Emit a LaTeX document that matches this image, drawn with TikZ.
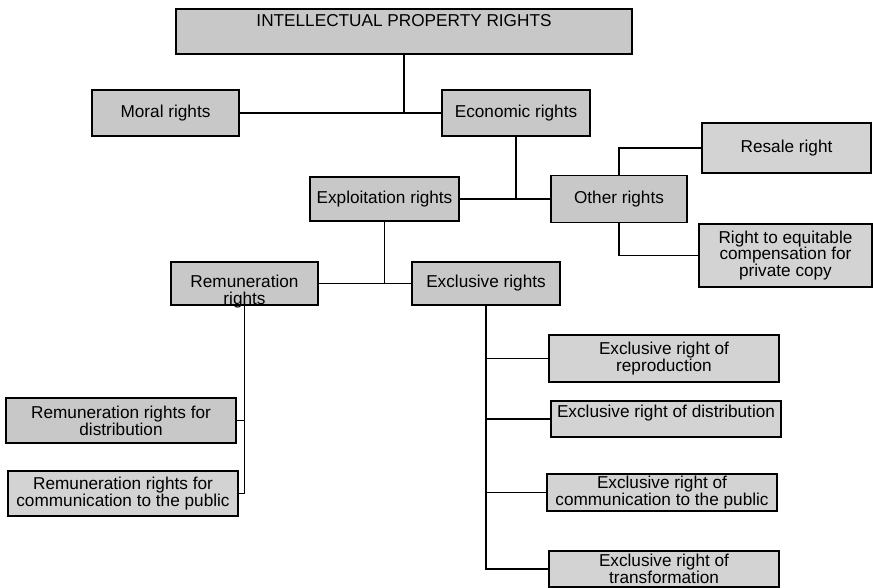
\documentclass[tikz,border=0pt]{standalone}
\usepackage{fontspec}
\setmainfont{Liberation Sans}

\definecolor{boxgray}{RGB}{200,200,200}
\definecolor{boxlight}{RGB}{211,211,211}

\begin{document}
\begin{tikzpicture}[x=1pt, y=-1pt, line width=1.1pt,
    main/.style = {draw, fill=boxgray, inner sep=2pt, font=\fontsize{17.2}{16.7}\selectfont},
    pale/.style = {main, fill=boxlight}]
    \clip (0,0) rectangle (873,587);

    \node[main, minimum width=456pt, minimum height=45pt, text height=12.5pt, text depth=23.5pt] (ipr) at (404,31.5) {INTELLECTUAL PROPERTY RIGHTS};
    \node[main, minimum width=147pt, minimum height=46pt] (moral) at (165.5,113) {Moral rights};
    \node[main, minimum width=148pt, minimum height=46pt] (econ) at (516,113) {Economic rights};

    \node[main, minimum width=149pt, minimum height=44pt] (expl) at (384.5,199) {Exploitation rights};
    \node[main, minimum width=136pt, minimum height=47pt] (other) at (619,199) {Other rights};
    \node[pale, minimum width=169pt, minimum height=50pt] (resale) at (786.5,148) {Resale right};
    \node[pale, minimum width=173pt, minimum height=63pt, align=center] (equit) at (785.5,255.5) {Right to equitable\\compensation for\\private copy};

    \node[main, minimum width=147pt, minimum height=43pt, text height=12.5pt, text depth=5.5pt] (remun) at (244.5,283.5) {\begin{tabular}[t]{@{}c@{}}Remuneration\\rights\end{tabular}};
    \node[main, minimum width=148pt, minimum height=43pt] (excl) at (486,283.5) {Exclusive rights};

    \node[main, minimum width=230pt, minimum height=45pt, align=center] (remdist) at (121,420.5) {Remuneration rights for\\distribution};
    \node[pale, minimum width=230pt, minimum height=45pt, align=center] (remcomm) at (123,493.5) {Remuneration rights for\\communication to the public};

    \node[pale, minimum width=230pt, minimum height=47pt, align=center] (exrep) at (664,358.5) {Exclusive right of\\reproduction};
    \node[pale, minimum width=230pt, minimum height=36pt, text height=12.5pt, text depth=16.5pt] (exdist) at (666,419) {Exclusive right of distribution};
    \node[pale, minimum width=230pt, minimum height=37pt, align=center] (excomm) at (662,492.5) {Exclusive right of\\communication to the public};
    \node[pale, minimum width=230pt, minimum height=36pt, align=center] (extrans) at (664,569) {Exclusive right of\\transformation};

    % top levels
    \draw (ipr.south) -- (ipr.south |- moral.east);
    \draw (moral) -- (econ);
    \draw (econ.south) -- (econ.south |- other.west);
    \draw (expl) -- (other);
    \draw (other.north) |- (resale.west);
    \draw (other.south) |- (equit.west);

    % exploitation branch
    \draw (expl.south) -- (expl.south |- excl.west);
    \draw (remun) -- (excl);
    \draw (remun.south) |- (remdist.east);
    \draw (remun.south) |- (remcomm.east);
    \draw (excl.south) |- (exrep.west);
    \draw (excl.south) |- (exdist.west);
    \draw (excl.south) |- (excomm.west);
    \draw (excl.south) |- (extrans.west);

\end{tikzpicture}
\end{document}
